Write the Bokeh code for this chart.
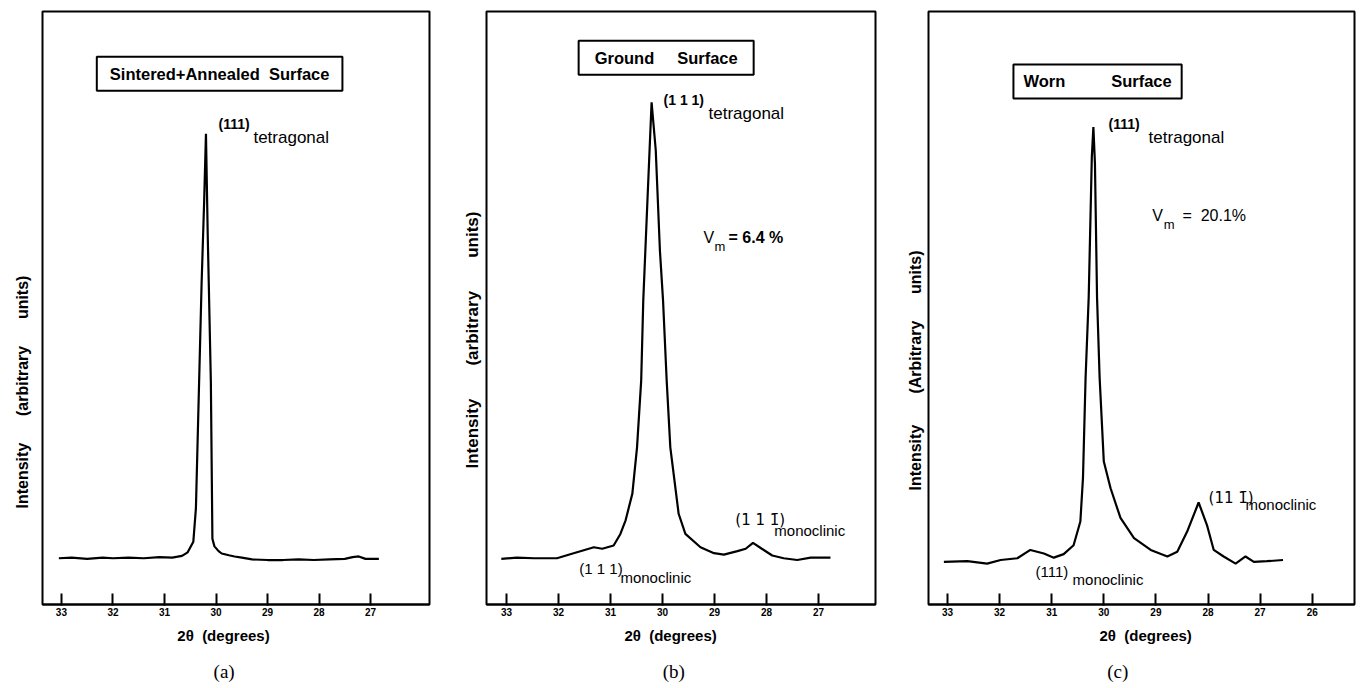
from bokeh.plotting import figure
from bokeh.layouts import row
from bokeh.models import Label, FixedTicker, Range1d, Title, LinearAxis
from bokeh.embed import file_html
from bokeh.resources import INLINE

# ---------------- data (2theta in degrees, intensity in arbitrary units) -------------
a_theta = [33.05, 32.8, 32.5, 32.2, 32.0, 31.7, 31.4, 31.1, 30.85, 30.66, 30.55, 30.44, 30.39,
           30.28, 30.23, 30.195, 30.16, 30.14, 30.10, 30.07, 30.03, 29.95, 29.89, 29.75, 29.64,
           29.5, 29.3, 29.0, 28.7, 28.4, 28.1, 27.8, 27.5, 27.35, 27.23, 27.1, 26.84]
a_int = [7.8, 7.9, 7.7, 7.9, 7.8, 7.9, 7.8, 8.0, 7.9, 8.2, 8.8, 10.6, 16.2,
         54.0, 68.0, 79.4, 62.0, 54.0, 37.6, 11.1, 9.8, 9.0, 8.6, 8.3, 8.1,
         7.9, 7.6, 7.5, 7.5, 7.6, 7.5, 7.6, 7.7, 8.0, 8.1, 7.7, 7.7]

b_theta = [33.10, 32.8, 32.47, 32.03, 31.71, 31.32, 31.16, 30.94, 30.81, 30.71, 30.58, 30.49,
           30.41, 30.37, 30.29, 30.21, 30.13, 30.05, 29.99, 29.92, 29.85, 29.69, 29.56, 29.27,
           29.01, 28.82, 28.56, 28.40, 28.26, 28.09, 27.89, 27.67, 27.41, 27.15, 26.77]
b_int = [7.7, 7.9, 7.8, 7.8, 8.65, 9.66, 9.4, 9.95, 11.9, 14.2, 18.7, 26.5,
         37.8, 51.3, 68.1, 84.7, 76.6, 59.7, 51.3, 37.8, 26.5, 15.3, 11.9, 9.66,
         8.65, 8.4, 9.0, 9.4, 10.4, 9.4, 8.26, 7.8, 7.5, 7.9, 7.9]

c_theta = [33.07, 32.62, 32.24, 31.98, 31.66, 31.41, 31.15, 30.96, 30.77, 30.58, 30.45, 30.40,
           30.35, 30.29, 30.23, 30.20, 30.17, 30.13, 30.08, 30.00, 29.87, 29.68, 29.42, 29.10,
           28.78, 28.59, 28.40, 28.18, 28.02, 27.89, 27.70, 27.47, 27.28, 27.12, 26.87, 26.56]
c_int = [7.2, 7.3, 6.9, 7.5, 7.8, 9.2, 8.6, 7.9, 8.5, 10.0, 14.0, 21.3,
         38.2, 51.8, 75.5, 80.5, 74.3, 51.8, 38.2, 24.1, 19.6, 14.6, 11.2, 9.2,
         8.1, 8.9, 12.3, 17.2, 13.4, 9.2, 8.1, 6.9, 8.1, 7.2, 7.3, 7.5]

ticks_ab = [33, 32, 31, 30, 29, 28, 27]
ticks_c = [33, 32, 31, 30, 29, 28, 27, 26]

FONT = "Liberation Sans"
H = 686
NB = "\u00a0"


def make_panel(theta, inten, xr, ticks, width, bl, br, caption,
               xlabel, ylabel, ylab_offset, ylab_standoff, ylab_size):
    p = figure(width=width, height=H, x_range=Range1d(*xr), y_range=Range1d(0, 100),
               output_backend="svg", toolbar_location=None,
               min_border_left=bl, min_border_right=br, min_border_top=11, min_border_bottom=82)
    p.grid.visible = False
    p.yaxis.visible = False
    p.outline_line_color = "black"
    p.outline_line_width = 2
    p.outline_line_alpha = 1
    p.background_fill_color = "white"
    p.border_fill_color = "white"
    ax = p.xaxis[0]
    ax.ticker = FixedTicker(ticks=ticks)
    ax.minor_tick_line_color = None
    ax.major_tick_in = 11
    ax.major_tick_out = 1
    ax.major_tick_line_width = 2
    ax.major_tick_line_color = "black"
    ax.axis_line_width = 2
    ax.axis_line_color = "black"
    ax.major_label_text_font = FONT
    ax.major_label_text_font_style = "bold"
    ax.major_label_text_font_size = "10px"
    ax.major_label_text_color = "black"
    ax.major_label_standoff = 2
    ax.axis_label = xlabel
    ax.axis_label_text_font = FONT
    ax.axis_label_text_font_style = "bold"
    ax.axis_label_text_font_size = "15px"
    ax.axis_label_text_color = "black"
    ax.axis_label_standoff = 8
    # caption "(a)/(b)/(c)" as the label of an extra, tick-less axis below
    cap = LinearAxis(ticker=FixedTicker(ticks=[]), axis_line_color=None,
                     major_tick_line_color=None, minor_tick_line_color=None,
                     major_tick_in=0, major_tick_out=0, major_label_standoff=0,
                     major_label_text_font_size="0px",
                     axis_label=caption, axis_label_standoff=14,
                     axis_label_text_font="Liberation Serif", axis_label_text_font_size="19px",
                     axis_label_text_font_style="normal", axis_label_text_color="black")
    p.add_layout(cap, "below")
    p.line(theta, inten, line_color="black", line_width=2.2)
    p.add_layout(Title(text=ylabel, align="left", offset=ylab_offset, text_font=FONT,
                       text_font_style="bold", text_font_size=ylab_size, text_color="black",
                       standoff=ylab_standoff), "left")
    return p


def box(p, x, y, text, pad_x, pad_y, size="16.5px"):
    p.add_layout(Label(x=x, y=y, text=text, text_align="center", text_baseline="middle",
                       text_font=FONT, text_font_style="bold", text_font_size=size,
                       text_color="black",
                       border_line_color="black", border_line_width=2,
                       background_fill_color="white",
                       padding=dict(left=pad_x, right=pad_x, top=pad_y, bottom=pad_y)))


def txt(p, x, y, text, size="14px", style="normal", font=FONT):
    p.add_layout(Label(x=x, y=y, text=text, text_align="left", text_baseline="middle",
                       text_font=font, text_font_style=style, text_font_size=size,
                       text_color="black"))


XL = "2θ" + NB + NB + "(degrees)"

# ---------------- panel (a) ----------------
pa = make_panel(a_theta, a_int, (33.367, 25.857), ticks_ab, 450, 40, 21, "(a)" + NB * 5,
                XL + NB * 6,
                "Intensity" + NB * 6 + "(arbitrary" + NB * 6 + "units)", 96, 23, "16px")
box(pa, 29.93, 89.5, "Sintered+Annealed" + NB + NB + "Surface", 13, 8)
txt(pa, 29.95, 81.1, "(111)", "14px", "bold")
txt(pa, 29.274, 78.75, "tetragonal", "17px")

# ---------------- panel (b) ----------------
pb = make_panel(b_theta, b_int, (33.385, 25.904), ticks_ab, 448, 36, 23, "(b)" + NB * 3,
                XL + NB * 5,
                "Intensity" + NB * 7 + "(arbitrary" + NB * 7 + "units)", 136, 10, "17px")
box(pb, 29.93, 92.2, "Ground" + NB * 5 + "Surface", 16, 8)
txt(pb, 29.98, 85.0, "(1 1 1)", "14px", "bold")
txt(pb, 29.116, 82.8, "tetragonal", "17px")
txt(pb, 29.21, 61.9, "V", "16px")
txt(pb, 29.00, 60.3, "m", "13px")
txt(pb, 28.73, 61.9, "= 6.4 %", "16px", "bold")
txt(pb, 28.60, 14.2, "(1 1 1\u0304)", "15px", font="DejaVu Sans")
txt(pb, 27.85, 12.5, "monoclinic", "15px")
txt(pb, 31.60, 6.07, "(1 1 1)", "15px")
txt(pb, 30.81, 4.55, "monoclinic", "15px")

# ---------------- panel (c) ----------------
pc = make_panel(c_theta, c_int, (33.365, 25.188), ticks_c, 460, 30, 4, "(c)" + NB * 10,
                NB + NB + XL,
                "Intensity" + NB * 7 + "(Arbitrary" + NB * 6 + "units)", 114, 9, "16px")
box(pc, 30.12, 88.2, "Worn" + NB * 10 + "Surface", 10, 8)
txt(pc, 29.91, 81.1, "(111)", "14px", "bold")
txt(pc, 29.14, 78.75, "tetragonal", "17px")
txt(pc, 29.07, 65.6, "V", "16px")
txt(pc, 28.85, 64.0, "m", "13px")
txt(pc, 28.49, 65.6, "=" + NB + NB + "20.1%", "16px")
txt(pc, 27.99, 18.0, "(11 1\u0304)", "15px", font="DejaVu Sans")
txt(pc, 27.28, 16.9, "monoclinic", "15px")
txt(pc, 31.31, 5.6, "(111)", "15px")
txt(pc, 30.60, 4.2, "monoclinic", "15px")

layout = row(pa, pb, pc)
open("out.html", "w").write(file_html(layout, INLINE))
